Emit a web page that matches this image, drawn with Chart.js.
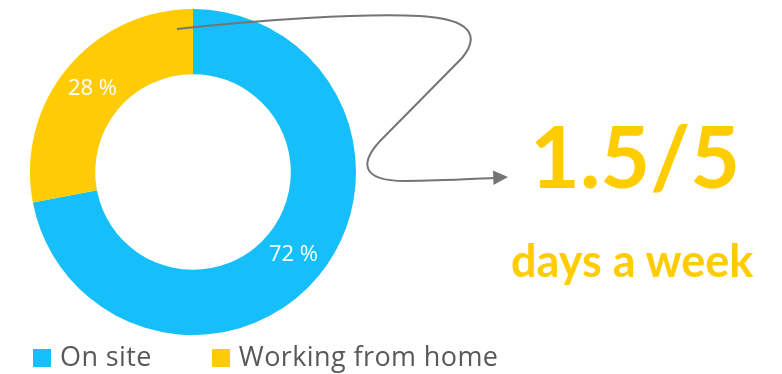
<!DOCTYPE html>
<html>
<head>
<meta charset="utf-8">
<script src="https://cdn.jsdelivr.net/npm/chart.js@4.4.1/dist/chart.umd.min.js"></script>
<style>
  html, body { margin: 0; padding: 0; background: #fff; }
  #wrap { position: relative; width: 782px; height: 374px; overflow: hidden; font-family: Lato, "Open Sans", sans-serif; }
  #chart { position: absolute; left: 0; top: 0; }
  #legend { position: absolute; left: 33px; top: 340px; display: flex; align-items: center; color: #595959; font-family: "Open Sans", sans-serif; font-size: 27px; line-height: 32px; letter-spacing: 0.4px; }
  #legend .item { display: flex; align-items: center; margin-right: 60px; }
  #legend .box { width: 18px; height: 18px; margin-right: 9px; position: relative; top: 2px; }
  .callout { position: absolute; color: #FFCC00; font-weight: bold; white-space: nowrap; }
  #ratio { left: 530px; top: 100px; font-size: 86px; line-height: 110px; }
  #days { left: 511px; top: 230px; font-size: 45px; line-height: 60px; }
</style>
</head>
<body>
<div id="wrap">
  <canvas id="chart" width="782" height="374"></canvas>
  <div id="legend"></div>
  <div class="callout" id="ratio">1.5/5</div>
  <div class="callout" id="days">days a week</div>
</div>
<script>
const labels = ['On site', 'Working from home'];
const shares = [72, 28];
const colors = ['#16BFF9', '#FFCB05'];

const ctx = document.getElementById('chart').getContext('2d');

// white percentage labels in the middle of each ring segment
const sliceLabels = {
  id: 'sliceLabels',
  afterDatasetsDraw(chart) {
    const c = chart.ctx;
    const meta = chart.getDatasetMeta(0);
    c.save();
    c.fillStyle = '#ffffff';
    c.font = '22px "Open Sans", sans-serif';
    c.textAlign = 'center';
    c.textBaseline = 'middle';
    meta.data.forEach((arc, i) => {
      const p = arc.tooltipPosition();
      c.fillText(shares[i] + ' %', p.x, p.y);
    });
    c.restore();
  }
};

// curly connector from the ring to the callout text
const connector = {
  id: 'connector',
  afterDraw(chart) {
    const c = chart.ctx;
    c.save();
    c.strokeStyle = '#747474';
    c.fillStyle = '#747474';
    c.lineWidth = 2;
    c.beginPath();
    c.moveTo(177, 29);
    c.bezierCurveTo(260, 20, 360, 13, 420, 16);
    c.bezierCurveTo(472, 19, 480, 36, 462, 58);
    c.lineTo(385, 136);
    c.bezierCurveTo(358, 162, 360, 181, 405, 181);
    c.bezierCurveTo(440, 181, 470, 179, 494, 178);
    c.stroke();
    c.beginPath();
    c.moveTo(508, 177);
    c.lineTo(493, 170.5);
    c.lineTo(493.5, 185);
    c.closePath();
    c.fill();
    c.restore();
  }
};

const chart = new Chart(ctx, {
  type: 'doughnut',
  data: {
    labels: labels,
    datasets: [{
      data: shares,
      backgroundColor: colors,
      borderWidth: 0
    }]
  },
  options: {
    responsive: false,
    animation: false,
    cutout: '60%',
    layout: {
      padding: { left: 30, top: 9, right: 426, bottom: 39 }
    },
    plugins: {
      legend: { display: false },
      tooltip: { enabled: false }
    }
  },
  plugins: [sliceLabels, connector]
});

// legend below the ring, built from the same labels and colours
const legend = document.getElementById('legend');
labels.forEach((name, i) => {
  const item = document.createElement('div');
  item.className = 'item';
  const box = document.createElement('span');
  box.className = 'box';
  box.style.background = colors[i];
  const text = document.createElement('span');
  text.textContent = name;
  item.appendChild(box);
  item.appendChild(text);
  legend.appendChild(item);
});
</script>
</body>
</html>
